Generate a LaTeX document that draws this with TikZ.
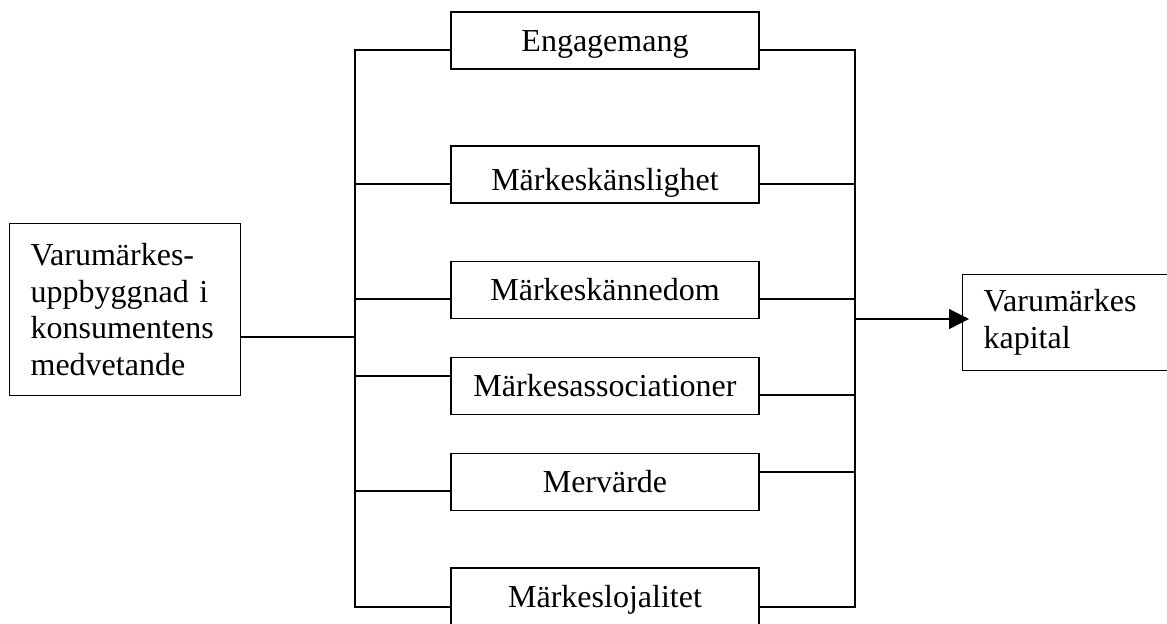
\documentclass[tikz,border=0pt]{standalone}
\usepackage{fontspec}
\setmainfont{Liberation Serif}
\usetikzlibrary{arrows.meta}
\tikzset{
  factor/.style={draw,minimum width=123.2pt,minimum height=22.8pt,inner sep=0pt,text height=8.4pt,text depth=0pt},
  outerbox/.style={draw,align=left,inner xsep=8.4pt,inner ysep=0pt,anchor=north west},
}
\begin{document}
\begin{tikzpicture}[x=0.4pt,y=-0.4pt,line width=0.5pt,font=\fontsize{12.8}{14.7}\selectfont]
\useasboundingbox (0,0) rectangle (1167,623);
% in- och utgang
\node[outerbox,text width=75.6pt,minimum height=68.8pt] (input) at (9,223) {Varumärkes-\\uppbyggnad i\\konsumentens\\medvetande};
\node[outerbox,text width=80pt,minimum height=38.4pt] (kapital) at (962,273.5) {Varumärkes\\kapital};
% faktorer
\node[factor]                  (eng)      at (605,40.5)  {Engagemang};
\node[factor,text height=12.8pt] (kansl)  at (605,174.5) {Märkeskänslighet};
\node[factor]                  (kannedom) at (605,290)   {Märkeskännedom};
\node[factor]                  (assoc)    at (605,386)   {Märkesassociationer};
\node[factor]                  (merv)     at (605,482)   {Mervärde};
\node[factor]                  (lojal)    at (605,596.5) {Märkeslojalitet};
% samlingslinjer
\coordinate (ltop) at (355,50);  \coordinate (lbot) at (355,607);
\coordinate (rtop) at (855,50);  \coordinate (rbot) at (855,607);
\draw (eng.west |- ltop) -- (ltop) -- (lbot) -- (lojal.west |- lbot);
\draw (eng.east |- rtop) -- (rtop) -- (rbot) -- (lojal.east |- rbot);
\foreach \n/\a/\b in {kansl/184/184,kannedom/299/299,assoc/376/395,merv/491/472}
{
  \draw (ltop |- 0,\a) -- (\n.west |- 0,\a);
  \draw (\n.east |- 0,\b) -- (rtop |- 0,\b);
}
\draw (input.east |- 0,337) -- (ltop |- 0,337);
\draw[-{Triangle[length=8pt,width=8pt]},shorten >=-2.8pt] (rtop |- 0,319) -- (kapital.west |- 0,319);
\end{tikzpicture}
\end{document}
